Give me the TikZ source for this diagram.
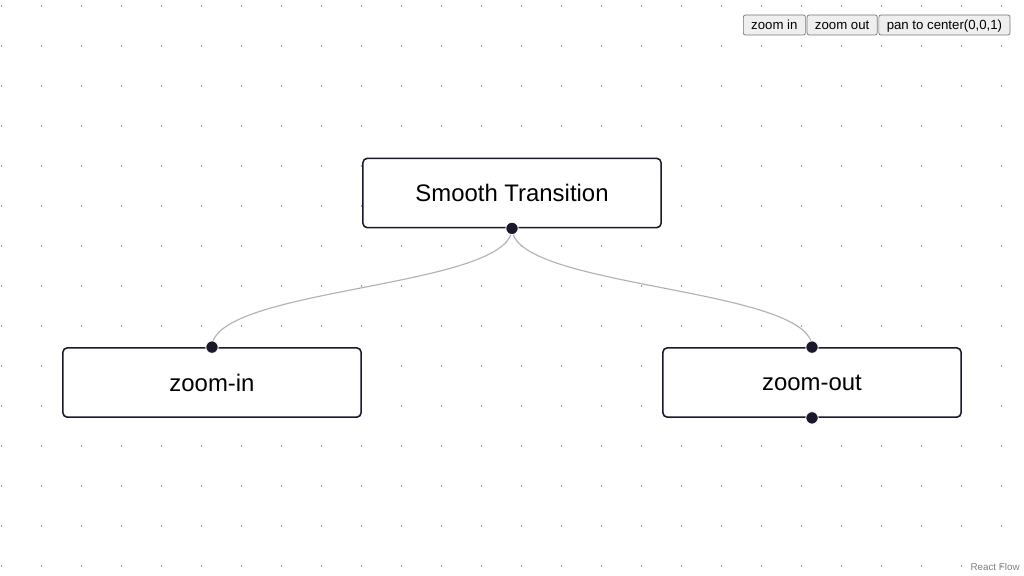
\documentclass[tikz,border=0pt]{standalone}
\usepackage{fontspec}
\setmainfont{Liberation Sans}
\usetikzlibrary{positioning}

\definecolor{handlecol}{HTML}{1A192B}
\definecolor{edgecol}{HTML}{B1B1B7}
\definecolor{dotcol}{HTML}{91919A}
\definecolor{btnfill}{HTML}{EFEFEF}
\definecolor{btnline}{HTML}{767676}

\tikzset{
  flownode/.style={draw=handlecol, line width=1.1pt, rounded corners=3pt, fill=white,
    minimum width=7.45cm, minimum height=1.73cm, font=\fontsize{17}{20}\selectfont},
  handle/.style={circle, fill=handlecol, draw=white, line width=0.6pt,
    minimum size=0.31cm, inner sep=0pt},
  flowedge/.style={draw=edgecol, line width=0.8pt},
  btn/.style={draw=btnline, fill=btnfill, line width=0.5pt, rounded corners=1.5pt,
    minimum height=0.5cm, inner xsep=5.6pt, inner ysep=0pt, text height=1.6ex, text depth=0.45ex,
    font=\fontsize{9.4}{11}\selectfont}
}

\begin{document}
\begin{tikzpicture}[x=0.025cm, y=-0.025cm]

  \def\cols{25}
  \def\rows{14}
  \def\gap{40}

  \fill[white] (0,0) rectangle (1024,576);

  % background dots
  \foreach \i in {0,...,\cols} {
    \foreach \j in {0,...,\rows} {
      \fill[dotcol] ({1.5+\i*\gap}, {6+\j*\gap}) circle (0.8);
    }
  }

  % nodes
  \node[flownode] (smooth) at (512, 193) {Smooth Transition};
  \node[flownode] (zin) at (212, 382.5) {zoom-in};
  \node[flownode] (zout) at (812, 382.5) {zoom-out};

  % edges
  \draw[flowedge] (smooth.south) .. controls +(0,60) and +(0,-60) .. (zin.north);
  \draw[flowedge] (smooth.south) .. controls +(0,60) and +(0,-60) .. (zout.north);

  % handles
  \node[handle] (hsmooth) at (smooth.south) {};
  \node[handle] (hzin) at (zin.north) {};
  \node[handle] (hzouttop) at (zout.north) {};
  \node[handle] (hzoutbot) at (zout.south) {};

  % controls
  \node[btn, anchor=west] (btnin) at (743, 25) {zoom in};
  \node[btn, right=0.7pt of btnin] (btnout) {zoom out};
  \node[btn, right=0.7pt of btnout] (btnpan) {pan to center(0,0,1)};

  \node[font=\fontsize{7}{8}\selectfont, text=gray, anchor=east, inner sep=0pt] (attrib) at (1020, 567) {React Flow};

\end{tikzpicture}
\end{document}
